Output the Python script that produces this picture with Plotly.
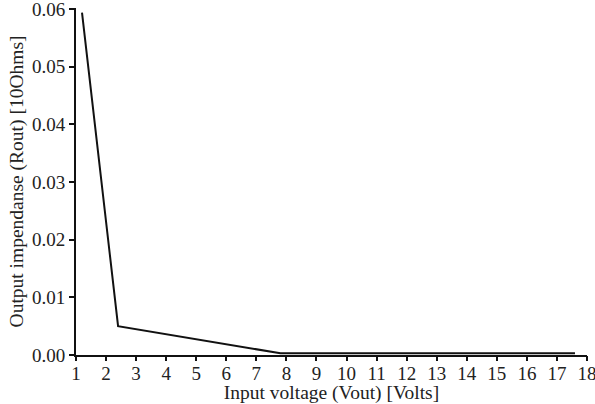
import plotly.graph_objects as go

vin = [1.2, 2.4, 7.8, 17.6]
rout = [0.0594, 0.0050, 0.0003, 0.0003]

x_ticks = list(range(1, 19))
y_ticks = [0.00, 0.01, 0.02, 0.03, 0.04, 0.05, 0.06]
y_labels = ["0.00", "0.01", "0.02", "0.03", "0.04", "0.05", "0.06"]

tick_font = dict(family="Liberation Serif, Times New Roman, serif", size=19, color="#222")
title_font = dict(family="Liberation Serif, Times New Roman, serif", size=19.5, color="#222")

fig = go.Figure()
fig.add_trace(go.Scatter(x=vin, y=rout, mode="lines",
                         line=dict(color="#111", width=2), hoverinfo="skip"))
# transparent copy on the tick-mark axis (x2) so that axis gets drawn
fig.add_trace(go.Scatter(x=vin, y=rout, xaxis="x2", yaxis="y", mode="lines",
                         opacity=0, line=dict(color="#111", width=2),
                         hoverinfo="skip", showlegend=False))
fig.update_layout(
    width=595, height=404, margin=dict(l=76, r=8, t=8, b=49),
    paper_bgcolor="white", plot_bgcolor="white", showlegend=False,
    font=tick_font,
    xaxis=dict(range=[1, 18], tickvals=x_ticks, ticks="", showline=True,
               linecolor="#111", linewidth=2, showgrid=False,
               zeroline=False, automargin=False, ticklabeloverflow="allow",
               title=dict(text="Input voltage (Vout) [Volts]", standoff=5,
                          font=title_font),
               tickfont=tick_font),
    xaxis2=dict(range=[1, 18], overlaying="x", anchor="y", side="bottom",
                tickvals=x_ticks, ticks="outside", ticklen=5, tickwidth=2,
                tickcolor="#111", showticklabels=False, showline=False,
                showgrid=False, zeroline=False, automargin=False),
    yaxis=dict(range=[0, 0.0602], tickvals=y_ticks, ticktext=y_labels,
               ticks="outside", ticklen=5, tickwidth=2, tickcolor="#111",
               showline=True, linecolor="#111", linewidth=2, showgrid=False,
               zeroline=False, automargin=False, ticklabeloverflow="allow",
               title=dict(text="Output impendanse (Rout) [10Ohms]", standoff=3,
                          font=title_font),
               tickfont=tick_font),
)
fig.write_html("out.html", config={"displayModeBar": False},
               post_script="document.body.style.margin='0px';")
